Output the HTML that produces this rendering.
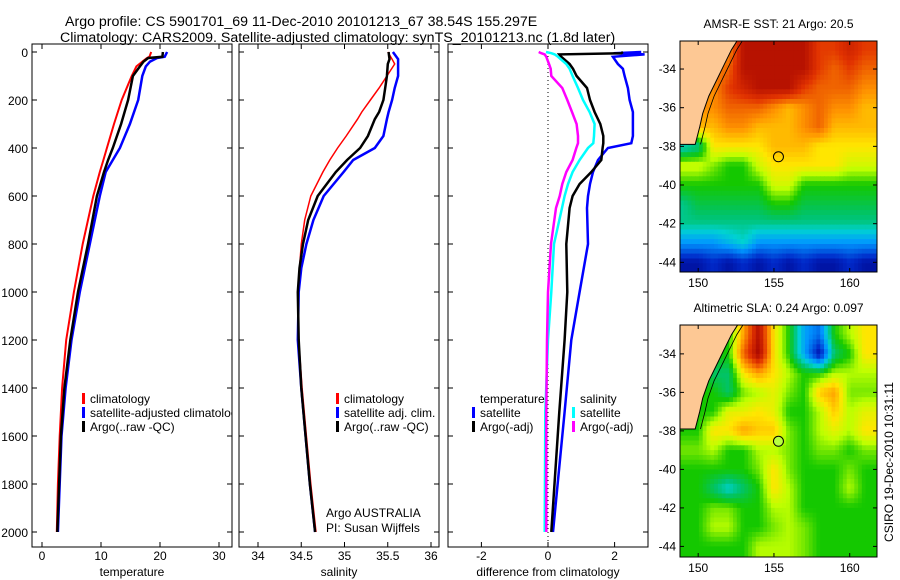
<!DOCTYPE html>
<html><head><meta charset="utf-8">
<style>
html,body{margin:0;padding:0;background:#fff;}
svg{display:block;font-family:"Liberation Sans",sans-serif;}
</style></head>
<body>
<svg id="chart" width="900" height="580" viewBox="0 0 900 580" xmlns="http://www.w3.org/2000/svg">
<defs>
<clipPath id="c1"><rect x="32" y="44" width="200" height="503"/></clipPath>
<clipPath id="c2"><rect x="239" y="44" width="200" height="503"/></clipPath>
<clipPath id="c3"><rect x="448" y="44" width="200" height="503"/></clipPath>
<clipPath id="cm1"><rect x="680" y="41" width="197" height="231"/></clipPath>
<clipPath id="cm2"><rect x="680" y="325" width="197" height="232"/></clipPath>
</defs>
<text x="65" y="26" font-size="14.2">Argo profile: CS 5901701_69 11-Dec-2010 20101213_67 38.54S 155.297E</text>
<text x="60" y="42" font-size="14.2">Climatology: CARS2009. Satellite-adjusted climatology: synTS_20101213.nc (1.8d later)</text>
<g id="g1"></g>
<g id="g2"></g>
<g id="g3"></g>
<g id="m1"></g>
<g id="m2"></g>
<text transform="translate(893,462) rotate(-90)" font-size="12" text-anchor="middle">CSIRO 19-Dec-2010 10:31:11</text>
</svg>
<script>
// ---- profile data ----
const tDepth = [0,20,25,40,60,100,200,300,400,450,500,600,800,1000,1200,1400,1600,1800,2000];
const tClim  = [18.5,18.2,17.8,17,16,15.2,13.5,12.2,11,10.4,9.8,8.7,6.9,5.4,4.1,3.4,3.0,2.7,2.5];
const tSat   = [21.2,20.8,19.5,18.3,17.6,17,16.3,14.9,13.2,12,10.8,9.8,8.1,6.4,5.0,4.0,3.3,3.0,2.7];
const tArgo  = [20.5,20.4,18.0,17.2,16.6,15.4,14.6,13.4,12,11.2,10.5,9.3,7.8,6.1,4.8,3.8,3.2,2.9,2.6];
const sDepth = [0,30,50,100,150,200,250,280,350,400,450,500,600,700,800,900,1000,1200,1400,1600,1800,2000];
const sClim  = [35.5,35.55,35.58,35.49,35.4,35.3,35.2,35.15,35.02,34.92,34.83,34.75,34.61,34.54,34.5,34.48,34.46,34.47,34.51,34.56,34.61,34.67];
const sSat   = [35.56,35.62,35.62,35.62,35.58,35.55,35.51,35.49,35.45,35.35,35.1,34.99,34.76,34.64,34.56,34.5,34.47,34.46,34.5,34.55,34.6,34.66];
const sArgo  = [35.51,35.52,35.5,35.49,35.47,35.45,35.4,35.35,35.27,35.18,35.03,34.9,34.69,34.58,34.52,34.48,34.46,34.47,34.5,34.55,34.6,34.66];
const dDepth = [0,5,10,20,50,70,100,150,200,250,300,350,380,400,450,500,550,600,650,800,1000,1200,1500,2000];
const dTsat  = [2.8,1.97,2.9,1.95,2.1,2.25,2.3,2.4,2.45,2.55,2.55,2.55,2.5,1.8,1.5,1.35,1.26,1.2,1.17,1.2,0.95,0.7,0.5,0.15];
const dTargo = [2.25,2.2,0.34,0.4,0.65,0.75,0.86,1.17,1.26,1.4,1.57,1.66,1.66,1.64,1.6,1.3,0.95,0.74,0.65,0.55,0.58,0.5,0.34,0.1];
const dSsat  = [-0.06,0.1,0.2,0.3,0.55,0.65,0.74,0.9,1.05,1.25,1.4,1.38,1.36,1.2,0.95,0.74,0.6,0.5,0.42,0.18,0.1,0.0,-0.08,-0.1];
const dSargo = [-0.28,-0.2,-0.1,-0.05,0.03,0.08,0.1,0.43,0.58,0.72,0.86,0.9,0.9,0.85,0.74,0.55,0.43,0.35,0.24,0.09,0.0,-0.03,-0.05,-0.05];
const tTicks = [0,10,20,30];
const sTicks = [34,34.5,35,35.5,36];
const dTicks = [-2,0,2];
const depthTicks = [0,200,400,600,800,1000,1200,1400,1600,1800,2000];
// ---- map data (1 degree grid, lon 149..161, lat -33..-44) ----
const mapLons = [149,150,151,152,153,154,155,156,157,158,159,160,161];
const mapLats = [-33,-34,-35,-36,-37,-38,-39,-40,-41,-42,-43,-44];
const sstGrid = [
[22,22,22,22,24,24,24,24,24,23,23,23.5,23],
[22,22,22,22.5,24,24,24,24,24,23,22.5,23,22.5],
[22,22,22,23,23.5,24,24,24,23,22.5,22.5,22.5,22],
[22,22,22,22.5,22.5,22.5,22,21.5,22,22.5,22,22,21.5],
[21.5,21.5,21.5,22,22,21.5,21.5,21.5,22,22.5,21.5,21.5,21.5],
[18,18.5,21,21,21,21,21.5,21.5,21.5,21,21,21,21],
[20.5,20.5,20,19.5,19.5,20.5,21,21,21,21,21,20.5,20.5],
[19.5,19.5,19.5,19.5,19.5,19.5,20.5,20.5,19.5,19.5,19.5,19.5,19.5],
[18.5,19,19,19,19,19,19.5,19.5,19,19,19,19,19],
[18.5,18.5,18.5,18.5,18.5,18.5,18.5,18.5,18.5,18.5,18.5,18.5,18.5],
[17,17,17,17.5,18,17,17,17,17,17,17,17,17],
[15,15,15.5,15,15.5,15,15.5,15,15.5,15,15,15.5,15]];
const slaGrid = [
[0,0,0,0,0.15,0.3,0.1,0,-0.15,-0.2,0,0.05,0.1],
[0,0,0,0,0.2,0.32,0.1,0,-0.15,-0.3,-0.05,0,0.1],
[0,0,-0.05,-0.05,0.1,0.15,0.1,0.05,0,0,0.05,0.05,0.05],
[0,0,0,-0.05,0.03,0.05,0.08,0.03,0,0.12,0.15,0.03,0.03],
[0,0,0,0.08,0.08,0.1,0.08,0,0,0.05,0.12,0.05,0.08],
[0,0,0.1,0.1,0.15,0.12,0.12,0.03,0,0.05,0.08,0.05,0.1],
[0.03,0.03,0.05,0,0,0.05,0.05,0.03,0,0.03,0.03,0,0.03],
[0,0,0,0,0,0.03,0.1,0.03,0,0,0,0.03,0],
[0,0,-0.05,-0.1,-0.05,0,0.1,0.05,0,0,0,0.05,0],
[0,0,0.03,0.03,0,0,0.05,0.05,0,0,0,0,0],
[0,0,0.05,0.05,0,0,0.03,0.05,0.03,0,0,0,0],
[0,0,0,0,0,0.05,0.05,0.05,0.03,0,0,0,0]];
const coastLon = [152.6,152.2,151.7,151.2,150.7,150.3,150.1,149.9,149.8];
const coastLat = [-32.5,-33.0,-33.8,-34.6,-35.4,-36.3,-37.0,-37.6,-37.9];
const mapLonTicks = [150,155,160];
const mapLatTicks = [-34,-36,-38,-40,-42,-44];
const argoPos = [155.297,-38.54];

const NS="http://www.w3.org/2000/svg";
function mk(parent,tag,attrs,text){const e=document.createElementNS(NS,tag);for(const k in attrs)e.setAttribute(k,attrs[k]);if(text!==undefined)e.textContent=text;parent.appendChild(e);return e;}
const yD = d => 52 + d*0.24;

function panel(g,clip,x0,x1,xs,ticks,labelFmt,xlabel,series,showDepth){
  const top=44,bot=547;
  const lo=mk(g,'rect',{x:x0,y:top,width:x1-x0,height:bot-top,fill:'none',stroke:'#000','stroke-width':1});
  
  
  depthTicks.forEach(d=>{
    const y=yD(d);
    const t1=mk(g,'line',{x1:x0,x2:x0+5,y1:y,y2:y,stroke:'#000'});
    
    
    const t2=mk(g,'line',{x1:x1,x2:x1-5,y1:y,y2:y,stroke:'#000'});
    
    
    if(showDepth){
      const l=mk(g,'text',{x:x0-4,y:y+5,'font-size':12,'text-anchor':'end'},String(d));
      
      
    }
  });
  ticks.forEach(v=>{
    const x=xs(v);
    const a=mk(g,'line',{x1:x,x2:x,y1:bot,y2:bot-5,stroke:'#000'});
    
    
    const b=mk(g,'line',{x1:x,x2:x,y1:top,y2:top+5,stroke:'#000'});
    
    
    const l=mk(g,'text',{x:x,y:560,'font-size':12,'text-anchor':'middle'},labelFmt(v));
    
    
  });
  const xl=mk(g,'text',{x:(x0+x1)/2,y:576,'font-size':12,'text-anchor':'middle'},xlabel);
  
  
  const sg=mk(g,'g',{'clip-path':'url(#'+clip+')'});
  series.forEach(s=>{
    const pts=s.depth.map((d,i)=>xs(s.vals[i]).toFixed(1)+','+yD(d).toFixed(1)).join(' ');
    const p=mk(sg,'polyline',{points:pts,fill:'none',stroke:s.color,'stroke-width':s.w});
    
    
  });
  return g;
}
const xsT=v=>42+v*5.9, xsS=v=>258+(v-34)*86.5, xsD=v=>548+v*33.3;
const g1=document.getElementById('g1');
panel(g1,'c1',32,232,xsT,tTicks,String,'temperature',[
 {depth:tDepth,vals:tClim,color:'#ff0000',w:2,name:'temp-climatology-line'},
 {depth:tDepth,vals:tSat,color:'#0000ff',w:2.5,name:'temp-satellite-line'},
 {depth:tDepth,vals:tArgo,color:'#000',w:2.5,name:'temp-argo-line'}],true);
const g2=document.getElementById('g2');
panel(g2,'c2',239,439,xsS,sTicks,String,'salinity',[
 {depth:sDepth,vals:sSat,color:'#0000ff',w:2.5,name:'sal-satellite-line'},
 {depth:sDepth,vals:sClim,color:'#ff0000',w:1.5,name:'sal-climatology-line'},
 {depth:sDepth,vals:sArgo,color:'#000',w:2.5,name:'sal-argo-line'}],false);
const g3=document.getElementById('g3');
const zl=mk(g3,'line',{x1:548,x2:548,y1:44,y2:547,stroke:'#000','stroke-dasharray':'1,3'});


panel(g3,'c3',448,648,xsD,dTicks,String,'difference from climatology',[
 {depth:dDepth,vals:dTsat,color:'#0000ff',w:2.5,name:'diff-temp-satellite-line'},
 {depth:dDepth,vals:dTargo,color:'#000',w:2.5,name:'diff-temp-argo-line'},
 {depth:dDepth,vals:dSsat,color:'#00ffff',w:2.5,name:'diff-sal-satellite-line'},
 {depth:dDepth,vals:dSargo,color:'#ff00ff',w:2.5,name:'diff-sal-argo-line'}],false);

function legend(g,clip,x,y,items){
  const lg=mk(g,'g',{'clip-path':clip?'url(#'+clip+')':''});
  
  
  items.forEach((it,i)=>{
    const yy=y+i*14;
    if(it.c){
      const m=mk(lg,'rect',{x:x,y:yy-10,width:3,height:11,fill:it.c});
      
      
    }
    const t=mk(lg,'text',{x:x+8,y:yy,'font-size':12},it.t);
    
    
  });
}
legend(g1,'c1',82,403,[{c:'#ff0000',t:'climatology'},{c:'#0000ff',t:'satellite-adjusted climatology'},{c:'#000',t:'Argo(..raw -QC)'}]);
legend(g2,'c2',336,403,[{c:'#ff0000',t:'climatology'},{c:'#0000ff',t:'satellite adj. clim.'},{c:'#000',t:'Argo(..raw -QC)'}]);
legend(g3,null,472,403,[{c:null,t:'temperature'},{c:'#0000ff',t:'satellite'},{c:'#000',t:'Argo(-adj)'}]);
legend(g3,null,572,403,[{c:null,t:'salinity'},{c:'#00ffff',t:'satellite'},{c:'#ff00ff',t:'Argo(-adj)'}]);
const a1=mk(g2,'text',{x:326,y:517,'font-size':12},'Argo AUSTRALIA');


const a2=mk(g2,'text',{x:326,y:532,'font-size':12},'PI: Susan Wijffels');



// ---- maps ----
const cmap=[[0,[0,0,130]],[0.1,[0,40,200]],[0.25,[0,150,255]],[0.35,[0,210,210]],[0.42,[0,195,110]],[0.5,[20,200,0]],[0.58,[190,255,0]],[0.65,[255,230,0]],[0.74,[255,150,0]],[0.86,[225,50,0]],[1,[160,0,0]]];
function jet(t){t=Math.max(0,Math.min(1,t));
  for(let i=1;i<cmap.length;i++){if(t<=cmap[i][0]){const a=cmap[i-1],b=cmap[i];const u=(t-a[0])/(b[0]-a[0]);
    return 'rgb('+a[1].map((c,k)=>Math.round(c+(b[1][k]-c)*u)).join(',')+')';}}
  return 'rgb(160,0,0)';}
function sample(grid,lon,lat){
  let fx=(lon-mapLons[0]), fy=(mapLats[0]-lat);
  fx=Math.max(0,Math.min(mapLons.length-1.001,fx)); fy=Math.max(0,Math.min(mapLats.length-1.001,fy));
  const i=Math.floor(fx),j=Math.floor(fy),u=fx-i,v=fy-j;
  const a=grid[j][i],b=grid[j][i+1],c=grid[j+1][i],d=grid[j+1][i+1];
  return a*(1-u)*(1-v)+b*u*(1-v)+c*(1-u)*v+d*u*v;}
function drawMap(g,clip,x0,y0,w,h,latTop,latBot,grid,vmin,vmax,title,showCircleFill){
  const lonL=148.8,lonR=161.8;
  const X=lon=>x0+(lon-lonL)/(lonR-lonL)*w, Y=lat=>y0+(latTop-lat)/(latTop-latBot)*h;
  const cg=mk(g,'g',{'clip-path':'url(#'+clip+')'});
  const step=0.25;
  for(let lat=latTop;lat>latBot-step;lat-=step){
    for(let lon=lonL;lon<lonR;lon+=step){
      const v=sample(grid,lon+step/2,lat-step/2);
      const r=mk(cg,'rect',{x:X(lon).toFixed(1),y:Y(lat).toFixed(1),width:(w/(lonR-lonL)*step+0.6).toFixed(1),height:(h/(latTop-latBot)*step+0.6).toFixed(1),fill:jet((v-vmin)/(vmax-vmin))});
      
      
    }
  }
  let pts=X(lonL)+','+Y(latTop-0.0);
  coastLon.forEach((lo,i)=>{pts+=' '+X(lo).toFixed(1)+','+Y(coastLat[i]).toFixed(1);});
  pts+=' '+X(lonL)+','+Y(coastLat[coastLat.length-1]).toFixed(1);
  const land=mk(cg,'polygon',{points:X(lonL)+','+Y(latTop)+' '+X(coastLon[0])+','+Y(latTop)+' '+pts.split(' ').slice(1).join(' '),fill:'#fdc894',stroke:'#000','stroke-width':1});
  
  
  const shelf=coastLon.map((lo,i)=>X(lo+0.35).toFixed(1)+','+Y(coastLat[i]).toFixed(1)).join(' ');
  const sl=mk(cg,'polyline',{points:shelf,fill:'none',stroke:'#000','stroke-width':0.8});
  
  
  const fr=mk(g,'rect',{x:x0,y:y0,width:w,height:h,fill:'none',stroke:'#000'});
  
  
  mapLonTicks.forEach(lo=>{const x=X(lo);
    const t=mk(g,'line',{x1:x,x2:x,y1:y0+h,y2:y0+h-4,stroke:'#000'});
    
    
    const t2=mk(g,'line',{x1:x,x2:x,y1:y0,y2:y0+4,stroke:'#000'});
    
    
    const l=mk(g,'text',{x:x,y:y0+h+15,'font-size':12,'text-anchor':'middle'},String(lo));
    
    });
  mapLatTicks.forEach(la=>{const y=Y(la);
    const t=mk(g,'line',{x1:x0,x2:x0+4,y1:y,y2:y,stroke:'#000'});
    
    
    const t2=mk(g,'line',{x1:x0+w,x2:x0+w-4,y1:y,y2:y,stroke:'#000'});
    
    
    const l=mk(g,'text',{x:x0-4,y:y+4,'font-size':12,'text-anchor':'end'},String(la));
    
    });
  const c=mk(g,'circle',{cx:X(argoPos[0]),cy:Y(argoPos[1]),r:5,fill:showCircleFill,stroke:'#000'});
  
  
  const tt=mk(g,'text',{x:x0+w/2,y:y0-13,'font-size':12,'text-anchor':'middle'},title);
  
  
}
drawMap(document.getElementById('m1'),'cm1',680,41,197,231,-32.55,-44.5,sstGrid,14.5,24.5,'AMSR-E SST: 21  Argo: 20.5','none');
drawMap(document.getElementById('m2'),'cm2',680,325,197,232,-32.5,-44.55,slaGrid,-0.33,0.33,'Altimetric SLA: 0.24  Argo: 0.097','#b8ff40');
</script>
</body></html>
